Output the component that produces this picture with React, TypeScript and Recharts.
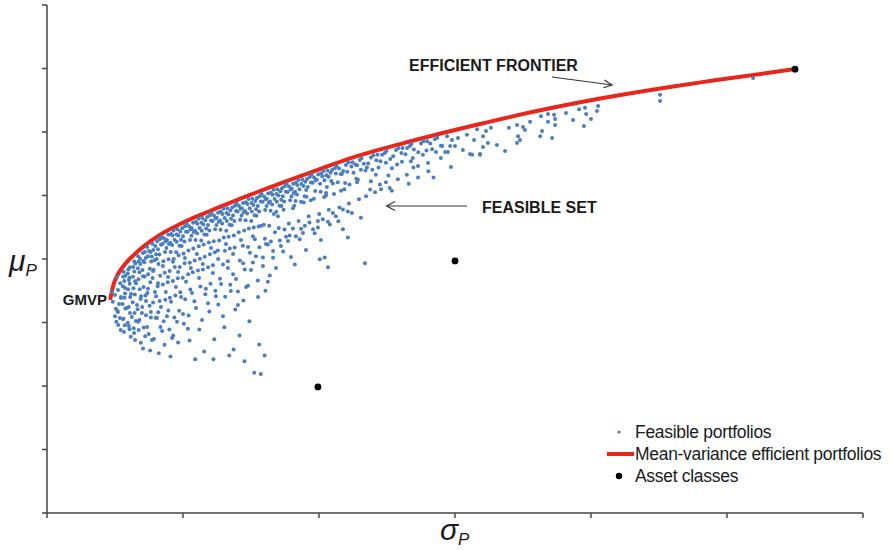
import React from 'react'
import { ComposedChart, Scatter, Line, XAxis, YAxis, Legend, Customized } from 'recharts'

// sigma (%) , mu (%) pairs
const feasible: Array<[number, number]> = [
  [2.39, 6.96], [2.5, 6.87], [2.42, 6.65], [2.53, 6.43], [2.5, 6.2], [2.55, 6.02],
  [2.58, 7.43], [2.69, 7.24], [2.61, 7.02], [2.72, 6.8], [2.65, 6.58], [2.59, 6.36], [2.68, 6.14], [2.62, 5.92], [2.71, 5.76],
  [2.82, 7.6], [2.88, 7.47], [2.8, 7.44], [2.84, 7.31], [2.79, 7.14], [2.87, 6.91],
  [2.85, 6.78], [2.78, 6.58], [2.88, 6.44], [2.81, 6.12], [2.86, 5.91], [2.83, 5.7],
  [3.05, 7.74], [2.99, 7.67], [2.97, 7.54], [3.03, 7.41], [3.01, 7.34], [3.04, 7.22],
  [2.98, 7.05], [3.06, 6.8], [3.0, 6.49], [3.05, 6.3], [2.97, 5.99], [3.03, 5.79], [3.08, 5.55],
  [3.21, 7.92], [3.25, 7.86], [3.17, 7.75], [3.21, 7.61], [3.16, 7.44], [3.24, 7.3],
  [3.18, 7.08], [3.23, 6.88], [3.15, 6.64], [3.22, 6.3], [3.27, 6.05], [3.19, 5.82], [3.24, 5.45],
  [3.35, 8.09], [3.42, 8.01], [3.37, 7.92], [3.43, 7.84], [3.34, 7.71], [3.4, 7.58],
  [3.36, 7.36], [3.41, 7.05], [3.44, 6.74], [3.33, 6.42], [3.4, 6.08], [3.37, 5.76], [3.45, 5.36],
  [3.6, 8.22], [3.52, 8.19], [3.63, 8.03], [3.54, 7.94], [3.58, 7.9], [3.51, 7.65],
  [3.59, 7.45], [3.55, 7.12], [3.62, 6.85], [3.5, 6.49], [3.64, 6.23], [3.56, 5.84], [3.61, 5.57], [3.53, 5.18],
  [3.68, 8.38], [3.75, 8.25], [3.81, 8.22], [3.71, 8.09], [3.83, 7.92], [3.78, 7.69],
  [3.72, 7.52], [3.8, 7.27], [3.69, 6.93], [3.77, 6.53], [3.82, 6.16], [3.74, 5.64], [3.79, 5.12],
  [3.87, 8.48], [3.98, 8.41], [3.91, 8.28], [4.01, 8.15], [3.85, 8.08], [3.95, 7.96],
  [3.92, 7.66], [3.88, 7.4], [3.97, 6.96], [3.9, 6.63], [4.0, 6.15], [3.93, 5.48],
  [4.15, 8.62], [4.05, 8.56], [4.19, 8.45], [4.08, 8.31], [4.13, 8.14], [4.03, 8.0],
  [4.1, 7.84], [4.16, 7.47], [4.07, 7.14], [4.14, 6.68], [4.09, 6.32], [4.17, 5.86], [4.11, 5.03],
  [4.21, 8.7], [4.3, 8.65], [4.36, 8.56], [4.25, 8.48], [4.39, 8.35], [4.34, 8.22],
  [4.28, 7.93], [4.33, 7.57], [4.26, 7.2], [4.35, 6.72], [4.29, 6.04], [4.32, 5.3],
  [4.56, 8.79], [4.46, 8.76], [4.41, 8.6], [4.53, 8.51], [4.48, 8.47], [4.55, 8.22],
  [4.47, 7.99], [4.51, 7.62], [4.44, 7.27], [4.52, 6.78], [4.46, 6.38], [4.5, 5.78], [4.54, 4.93],
  [4.65, 8.9], [4.76, 8.77], [4.61, 8.74], [4.69, 8.61], [4.6, 8.44], [4.75, 8.21],
  [4.66, 8.0], [4.7, 7.75], [4.63, 7.31], [4.72, 6.85], [4.68, 6.16], [4.64, 5.59],
  [4.79, 8.94], [4.9, 8.87], [4.83, 8.74], [4.93, 8.61], [4.77, 8.54], [4.87, 8.42],
  [4.84, 8.12], [4.88, 7.75], [4.81, 7.39], [4.9, 6.95], [4.86, 6.37], [4.82, 5.37],
  [5.07, 9.03], [4.97, 8.97], [5.11, 8.86], [5.0, 8.72], [5.05, 8.55], [4.95, 8.41],
  [5.02, 8.17], [5.06, 7.87], [4.99, 7.41], [5.08, 6.73], [5.03, 5.96],
  [5.13, 9.11], [5.22, 9.03], [5.28, 8.94], [5.17, 8.86], [5.31, 8.73], [5.26, 8.6],
  [5.2, 8.27], [5.25, 7.88], [5.19, 7.52], [5.27, 7.04], [5.21, 6.22], [5.24, 5.43],
  [5.47, 9.17], [5.37, 9.14], [5.32, 8.98], [5.44, 8.89], [5.39, 8.85], [5.46, 8.6],
  [5.38, 8.33], [5.43, 7.95], [5.36, 7.58], [5.42, 6.67], [5.45, 4.84],
  [5.57, 9.27], [5.68, 9.14], [5.53, 9.11], [5.61, 8.98], [5.52, 8.81], [5.67, 8.58],
  [5.58, 8.4], [5.62, 8.01], [5.55, 7.64], [5.64, 7.13], [5.6, 5.78],
  [5.71, 9.29], [5.82, 9.22], [5.75, 9.09], [5.85, 8.96], [5.69, 8.89], [5.79, 8.77],
  [5.76, 8.46], [5.8, 8.07], [5.73, 7.67], [5.82, 6.89], [5.78, 5.09],
  [5.99, 9.38], [5.89, 9.32], [6.03, 9.21], [5.92, 9.07], [5.97, 8.9], [5.87, 8.76],
  [5.95, 8.52], [5.99, 8.15], [5.92, 7.74], [6.01, 7.22], [5.97, 6.35],
  [6.05, 9.45], [6.14, 9.37], [6.2, 9.28], [6.09, 9.2], [6.23, 9.07], [6.18, 8.94],
  [6.13, 8.56], [6.17, 8.21], [6.1, 7.8], [6.19, 7.0], [6.15, 5.47], [6.12, 4.84],
  [6.39, 9.49], [6.29, 9.46], [6.24, 9.3], [6.36, 9.21], [6.31, 9.17], [6.38, 8.92],
  [6.33, 8.58], [6.28, 8.27], [6.36, 7.38], [6.3, 6.57],
  [6.49, 9.58], [6.6, 9.45], [6.45, 9.42], [6.53, 9.29], [6.44, 9.12], [6.59, 8.89],
  [6.5, 8.68], [6.54, 8.26], [6.47, 7.83], [6.55, 6.81], [6.52, 5.85],
  [6.63, 9.6], [6.74, 9.53], [6.67, 9.4], [6.77, 9.27], [6.61, 9.2], [6.71, 9.08],
  [6.68, 8.7], [6.72, 8.33], [6.65, 7.93], [6.74, 7.19], [6.7, 4.96],
  [6.91, 9.68], [6.81, 9.62], [6.95, 9.51], [6.84, 9.37], [6.89, 9.2], [6.79, 9.06],
  [6.87, 8.74], [6.9, 8.36], [6.84, 7.52], [6.92, 6.41], [6.86, 5.15],
  [6.97, 9.75], [7.06, 9.67], [7.12, 9.58], [7.01, 9.5], [7.15, 9.37], [7.1, 9.24],
  [7.05, 8.84], [7.09, 7.95], [7.02, 6.98], [7.08, 5.59],
  [7.31, 9.79], [7.21, 9.76], [7.16, 9.6], [7.28, 9.51], [7.23, 9.47], [7.3, 9.22],
  [7.25, 8.9], [7.2, 8.42], [7.27, 7.67], [7.22, 6.69], [7.26, 4.78],
  [7.41, 9.89], [7.52, 9.76], [7.37, 9.73], [7.45, 9.6], [7.36, 9.43], [7.51, 9.2],
  [7.42, 8.96], [7.46, 8.2], [7.39, 7.16], [7.44, 6.04],
  [7.55, 9.9], [7.66, 9.83], [7.59, 9.7], [7.69, 9.57], [7.53, 9.5], [7.63, 9.38],
  [7.6, 8.99], [7.64, 8.62], [7.57, 7.89], [7.62, 4.42],
  [7.82, 9.98], [7.72, 9.92], [7.86, 9.81], [7.75, 9.67], [7.8, 9.5], [7.7, 9.36],
  [7.78, 9.02], [7.81, 8.37], [7.75, 7.32], [7.8, 5.31], [7.86, 4.38],
  [7.89, 10.05], [7.98, 9.97], [8.04, 9.88], [7.93, 9.8], [8.07, 9.67], [8.02, 9.54],
  [7.97, 9.08], [8.01, 8.64], [7.94, 8.05], [8.03, 7.0], [8.0, 4.96],
  [8.23, 10.09], [8.13, 10.06], [8.08, 9.9], [8.2, 9.81], [8.15, 9.77], [8.22, 9.52],
  [8.17, 9.05], [8.12, 8.46], [8.19, 7.48],
  [8.33, 10.18], [8.44, 10.05], [8.29, 10.02], [8.37, 9.89], [8.28, 9.72], [8.43, 9.49],
  [8.34, 9.42], [8.38, 8.84], [8.31, 8.04],
  [8.47, 10.2], [8.58, 10.13], [8.51, 10.0], [8.61, 9.87], [8.45, 9.8], [8.55, 9.68],
  [8.52, 8.98], [8.56, 8.58],
  [8.74, 10.29], [8.64, 10.23], [8.78, 10.12], [8.67, 9.98], [8.72, 9.81], [8.62, 9.67],
  [8.7, 9.55], [8.73, 8.93], [8.68, 8.24],
  [8.81, 10.36], [8.9, 10.28], [8.96, 10.19], [8.85, 10.11], [8.99, 9.98], [8.94, 9.85],
  [8.89, 9.12], [8.92, 8.74],
  [9.15, 10.4], [9.05, 10.37], [9.0, 10.21], [9.12, 10.12], [9.07, 10.08], [9.14, 9.83],
  [9.09, 9.68], [9.04, 8.96], [9.11, 7.83],
  [9.24, 10.49], [9.35, 10.36], [9.2, 10.33], [9.28, 10.2], [9.19, 10.03], [9.34, 9.8],
  [9.25, 9.2], [9.29, 8.62],
  [9.39, 10.5], [9.5, 10.43], [9.43, 10.3], [9.53, 10.17], [9.47, 9.98],
  [9.44, 9.78], [9.48, 9.05],
  [9.66, 10.58], [9.56, 10.52], [9.7, 10.41], [9.59, 10.27], [9.54, 9.96],
  [9.62, 9.35], [9.65, 9.15],
  [9.73, 10.65], [9.82, 10.57], [9.88, 10.48], [9.77, 10.4], [9.86, 10.14],
  [9.81, 9.9], [9.84, 8.81],
  [10.07, 10.69], [9.97, 10.66], [9.92, 10.5], [10.04, 10.37], [10.06, 10.12],
  [10.01, 9.42], [9.96, 8.99], [10.03, 7.99],
  [10.16, 10.77], [10.27, 10.64], [10.12, 10.61], [10.2, 10.48], [10.26, 10.08],
  [10.19, 9.95], [10.14, 9.25], [10.21, 8.05],
  [10.31, 10.79], [10.42, 10.72], [10.35, 10.59], [10.45, 10.46], [10.29, 10.27],
  [10.36, 9.55], [10.4, 9.09], [10.33, 7.74],
  [10.58, 10.86], [10.48, 10.8], [10.62, 10.69], [10.51, 10.38], [10.55, 10.05],
  [10.65, 10.93], [10.74, 10.85], [10.8, 10.68], [10.69, 10.42], [10.75, 9.62], [10.71, 9.19],
  [10.99, 10.96], [10.89, 10.77], [10.84, 10.68], [10.96, 10.39], [10.93, 10.2], [10.88, 9.56],
  [11.08, 11.04], [11.19, 10.91], [11.04, 10.75], [11.12, 10.35], [11.1, 9.75], [11.06, 8.68],
  [11.23, 11.05], [11.34, 10.98], [11.27, 10.72], [11.37, 10.53],
  [11.5, 11.12], [11.4, 10.95], [11.54, 10.81], [11.43, 10.5], [11.47, 9.88],
  [11.56, 11.17], [11.65, 11.0], [11.71, 10.79], [11.69, 7.87],
  [11.91, 11.2], [11.81, 11.01], [11.76, 10.88], [11.88, 10.19],
  [12.0, 11.27], [12.11, 11.11], [11.96, 10.81], [12.06, 10.1],
  [12.15, 11.28], [12.26, 11.08], [12.19, 10.88], [12.24, 10.35],
  [12.42, 11.34], [12.32, 11.28], [12.46, 11.03],
  [12.48, 11.4], [12.62, 11.15], [12.55, 10.63], [12.6, 10.24],
  [12.83, 11.43], [12.73, 11.24], [12.68, 10.86],
  [12.92, 11.5], [13.03, 11.34], [12.9, 10.51],
  [13.07, 11.5], [13.18, 11.3],
  [13.34, 11.56], [13.24, 11.5], [13.38, 11.08], [13.3, 10.37],
  [13.4, 11.62], [13.49, 11.45], [13.47, 10.88],
  [13.75, 11.64], [13.65, 11.36], [13.64, 10.57],
  [13.84, 11.71], [13.95, 11.42],
  [13.98, 11.71], [14.09, 11.64], [14.02, 10.76],
  [14.26, 11.77], [14.16, 11.46], [14.21, 10.57],
  [14.35, 11.82], [14.48, 11.57],
  [14.53, 11.56], [14.64, 11.37],
  [14.71, 11.87], [14.82, 11.56], [14.74, 11.37], [14.85, 10.9],
  [14.89, 11.75], [15.0, 11.56],
  [15.44, 11.91], [15.55, 11.31],
  [15.81, 12.09], [15.92, 11.31],
  [16.03, 11.87], [16.21, 11.65], [16.03, 11.53], [15.63, 11.28], [15.92, 11.28], [16.32, 12.13], [16.84, 11.4],
  [17.28, 12.22], [17.5, 12.16], [17.57, 12.06], [17.32, 11.87], [17.39, 11.75], [17.28, 11.65],
  [18.2, 12.03], [18.13, 11.87], [18.16, 12.5], [18.42, 12.57], [18.64, 12.54], [18.68, 12.41], [18.42, 12.32], [18.68, 12.22], [18.57, 11.81],
  [19.34, 12.38], [19.56, 12.72], [19.78, 12.76], [19.82, 12.57], [19.74, 12.19], [20.26, 12.82], [20.22, 12.66],
  [22.54, 13.17], [22.54, 12.98], [25.96, 13.7],
  // scattered interior of the set
  [2.61, 6.33], [2.72, 6.77], [2.79, 6.11], [2.87, 7.09], [2.94, 6.46], [3.01, 5.89], [3.09, 6.9], [3.12, 6.17],
  [3.2, 5.67], [3.27, 7.24], [3.31, 6.55], [3.35, 6.02], [3.46, 6.83], [3.49, 6.3], [3.53, 7.46], [3.64, 6.68],
  [3.68, 5.86], [3.71, 7.06], [3.82, 6.33], [3.86, 5.45], [3.9, 7.62], [4.01, 6.83], [4.04, 6.14], [4.08, 7.24],
  [4.19, 6.49], [4.23, 5.73], [4.26, 7.78], [4.37, 6.96], [4.41, 6.2], [4.45, 7.43], [4.56, 6.65], [4.6, 5.51],
  [4.63, 7.91], [4.74, 7.12], [4.78, 6.02], [4.82, 7.59], [4.93, 6.8], [5.0, 6.27], [5.07, 8.03], [5.11, 7.28],
  [5.18, 5.8], [5.29, 7.72], [5.33, 6.93], [5.48, 6.46], [5.51, 8.16], [5.59, 7.4], [5.7, 6.08], [5.73, 7.84],
  [5.84, 7.06], [5.92, 6.61], [6.03, 8.35], [6.1, 7.56], [6.21, 6.83], [6.29, 8.0], [6.4, 7.21], [6.47, 6.2],
  [6.58, 8.47], [6.65, 7.72], [6.76, 6.99], [6.84, 8.16], [6.95, 7.37], [7.02, 6.55], [7.13, 8.6], [7.21, 7.87],
  [7.32, 7.12], [7.39, 8.38], [7.5, 7.65], [7.57, 8.72], [7.68, 8.09], [7.76, 6.8], [7.87, 9.05], [7.94, 7.78],
  [8.05, 8.47], [8.12, 7.28], [8.23, 8.55], [8.31, 8.25], [8.42, 7.72], [8.49, 9.35], [8.6, 8.41], [8.79, 8.7],
  [8.86, 8.57], [8.97, 8.06], [9.04, 9.6], [9.15, 8.72], [9.34, 8.95], [9.41, 8.82], [9.52, 8.28], [9.7, 9.85],
  [9.78, 8.94], [9.96, 9.2], [10.07, 8.6], [10.26, 10.0], [10.33, 9.17], [10.51, 9.45], [10.62, 9.35], [10.81, 10.15],
  [10.88, 8.94], [11.06, 9.5], [11.21, 9.45], [11.4, 10.42], [11.54, 9.3], [11.73, 9.98], [11.91, 10.45],
  [12.09, 10.65], [12.28, 10.2], [12.46, 10.42], [12.68, 10.15], [12.87, 10.98], [13.05, 11.06], [13.23, 10.65],
  [13.45, 11.18], [13.64, 10.93], [13.82, 11.28], [14.01, 11.02], [14.3, 11.37], [14.48, 11.18], [15.11, 11.81],
  [15.29, 11.43], [15.7, 11.75], [16.14, 12.03], [16.54, 11.59], [16.98, 12.13], [17.76, 12.32], [19.08, 12.6],
  [20.0, 12.41],
]

const frontier: Array<[number, number]> = [
  [2.32, 6.71], [2.43, 7.15], [2.57, 7.46], [2.76, 7.72], [2.98, 7.95], [3.27, 8.19], [3.6, 8.43],
  [4.15, 8.76], [4.82, 9.07], [5.44, 9.32], [6.07, 9.54], [7.46, 10.02], [8.68, 10.41], [9.93, 10.8],
  [11.14, 11.17], [12.98, 11.62], [14.19, 11.89], [15.92, 12.25], [18.01, 12.66], [20.44, 13.07],
  [22.9, 13.42], [24.49, 13.62], [27.5, 13.98],
]

const assets: Array<[number, number]> = [
  [9.96, 3.97], [15.0, 7.94], [27.5, 13.98],
]

const xTicks = [0, 5, 10, 15, 20, 25, 30]
const yTicks = [0, 2, 4, 6, 8, 10, 12, 14, 16]

const toRows = (pts: Array<[number, number]>) => pts.map(([s, m]) => ({ s, m }))

const BLUE = '#4a7ebf'
const RED = '#e8261c'
const AXIS = '#454545'
const FONT = '"Liberation Sans", Arial, sans-serif'

const legendItems = [
  { label: 'Feasible portfolios', kind: 'smalldot' },
  { label: 'Mean-variance efficient portfolios', kind: 'line' },
  { label: 'Asset classes', kind: 'dot' },
]

const LegendBox = () => (
  <div style={{ fontFamily: FONT, fontSize: 17.5, color: '#1a1a1a' }}>
    {legendItems.map((it) => (
      <div key={it.label} style={{ display: 'flex', alignItems: 'center', height: 22, whiteSpace: 'nowrap' }}>
        <svg width={35} height={22} style={{ flex: 'none' }}>
          {it.kind === 'smalldot' && <circle cx={19} cy={11} r={1.6} fill={BLUE} />}
          {it.kind === 'line' && <line x1={7} x2={34} y1={11} y2={11} stroke={RED} strokeWidth={4} />}
          {it.kind === 'dot' && <circle cx={19} cy={11} r={3.2} fill="#000" />}
        </svg>
        <span style={{ letterSpacing: -0.3 }}>{it.label}</span>
      </div>
    ))}
  </div>
)

const Annotations = () => (
  <g fontFamily={FONT}>
    <text x={409} y={71} fontSize={16} fontWeight="bold" fill="#1a1a1a">EFFICIENT FRONTIER</text>
    <line x1={552} y1={77} x2={612} y2={85} stroke="#333" strokeWidth={1.2} />
    <polyline points="604.4,80.1 612,85 603.4,87.7" fill="none" stroke="#333" strokeWidth={1.2} />

    <text x={482} y={213} fontSize={16} fontWeight="bold" fill="#1a1a1a">FEASIBLE SET</text>
    <line x1={467} y1={206} x2={387} y2={206} stroke="#333" strokeWidth={1.2} />
    <polyline points="395,201.5 386.5,206 395,210.5" fill="none" stroke="#333" strokeWidth={1.2} />

    <text x={107} y={305} fontSize={15} fontWeight="bold" fill="#1a1a1a" textAnchor="end">GMVP</text>

    <text x={9} y={271} fontSize={30} fontStyle="italic" fill="#1a1a1a">
      μ<tspan fontSize={17} dy={5}>P</tspan>
    </text>
    <text x={440} y={540} fontSize={30} fontStyle="italic" fill="#1a1a1a">
      σ<tspan fontSize={17} dy={5}>P</tspan>
    </text>
  </g>
)

const Dot = (props: any) => <circle cx={props.cx} cy={props.cy} r={2} fill={BLUE} />
const AssetDot = (props: any) => <circle cx={props.cx} cy={props.cy} r={3.4} fill="#000" />

export default function App() {
  return (
    <div style={{ position: 'absolute', left: 0, top: 0, width: 893, height: 550, background: '#fff' }}>
      <ComposedChart width={893} height={550} margin={{ top: 5, right: 30, bottom: 7, left: 17 }}>
        <XAxis
          type="number"
          dataKey="s"
          domain={[0, 30]}
          ticks={xTicks}
          tickSize={5}
          height={30}
          tickFormatter={() => ''}
          axisLine={{ stroke: AXIS, strokeWidth: 1.5 }}
          tickLine={{ stroke: AXIS, strokeWidth: 1.5 }}
        />
        <YAxis
          type="number"
          dataKey="m"
          domain={[0, 16]}
          ticks={yTicks}
          tickSize={5}
          width={30}
          tickFormatter={() => ''}
          axisLine={{ stroke: AXIS, strokeWidth: 1.5 }}
          tickLine={{ stroke: AXIS, strokeWidth: 1.5 }}
        />
        <Scatter name="Feasible portfolios" data={toRows(feasible)} shape={Dot} isAnimationActive={false} />
        <Line
          name="Mean-variance efficient portfolios"
          data={toRows(frontier)}
          dataKey="m"
          type="monotone"
          stroke={RED}
          strokeWidth={4}
          dot={false}
          activeDot={false}
          isAnimationActive={false}
        />
        <Scatter name="Asset classes" data={toRows(assets)} shape={AssetDot} isAnimationActive={false} />
        <Legend
          layout="horizontal"
          verticalAlign="middle"
          align="center"
          wrapperStyle={{ left: 600, top: 421, width: 293, height: 66 }}
          content={() => <LegendBox />}
        />
        <Customized component={Annotations} />
      </ComposedChart>
    </div>
  )
}
